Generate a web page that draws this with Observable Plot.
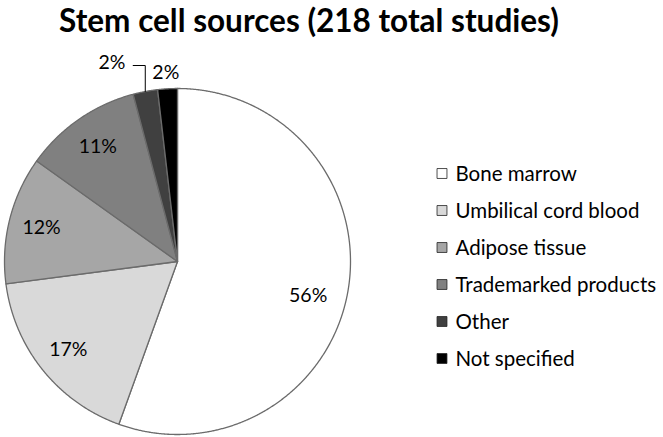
<!DOCTYPE html>
<html><head><meta charset="utf-8">
<script src="https://cdn.jsdelivr.net/npm/d3@7"></script>
<script src="https://cdn.jsdelivr.net/npm/@observablehq/plot@0.6"></script>
<style>body{margin:0;background:#fff;font-family:Lato,sans-serif;}</style>
</head><body><div id="chart"></div>
<script>
const title = "Stem cell sources (218 total studies)";
const categories = ["Bone marrow", "Umbilical cord blood", "Adipose tissue", "Trademarked products", "Other", "Not specified"];
const studies = [121, 38, 26, 24, 5, 4];
const colors = ["#ffffff", "#d9d9d9", "#a6a6a6", "#808080", "#404040", "#000000"];

// layout (pixels)
const W = 663, H = 437, CX = 177, CY = 261, R = 173;
const ux = px => (px - CX) / R;
const uy = py => (CY - py) / R;

const total = d3.sum(studies);
const data = categories.map((c, i) => ({category: c, value: studies[i], share: studies[i] / total, pct: Math.round(studies[i] / total * 100) + "%"}));
const arcs = d3.pie().sort(null).value(d => d.value)(data);
const pt = (a, r) => [r * Math.sin(a), r * Math.cos(a)];

const polys = arcs.flatMap(a => {
  const n = Math.max(2, Math.ceil((a.endAngle - a.startAngle) / 0.005));
  const pts = [{category: a.data.category, x: 0, y: 0}];
  for (let k = 0; k <= n; k++) {
    const t = a.startAngle + (a.endAngle - a.startAngle) * k / n;
    const [x, y] = pt(t, 1);
    pts.push({category: a.data.category, x, y});
  }
  return pts;
});

const mid = a => (a.startAngle + a.endAngle) / 2;
const inside = arcs.filter(a => a.data.share >= 0.05).map((a, i) => {
  const ang = mid(a) + (i === 0 ? 0.08 : 0);
  const [x, y] = pt(ang, i === 0 ? 0.78 : 0.81);
  return {x, y, label: a.data.pct};
});
const small = arcs.filter(a => a.data.share < 0.05);
const outLabels = [];
const leader = [];
small.forEach((a, j) => {
  const [ex, ey] = pt(mid(a), 1);
  if (j === small.length - 1) {
    outLabels.push({x: ex - 0.01, y: uy(72), label: a.data.pct, anchor: "middle"});
  } else {
    leader.push({x: ex, y: ey}, {x: ex, y: uy(65)}, {x: ex - 0.07, y: uy(65)});
    outLabels.push({x: ex - 0.115, y: uy(62), label: a.data.pct, anchor: "end"});
  }
});

const legend = categories.map((c, i) => ({category: c, x: ux(441.5), tx: ux(455), y: uy(173 + i * 37)}));

const chart = Plot.plot({
  width: W, height: H,
  margin: 0,
  x: {domain: [-1, 1], range: [CX - R, CX + R], axis: null},
  y: {domain: [-1, 1], range: [CY + R, CY - R], axis: null},
  color: {domain: categories, range: colors},
  style: {fontFamily: "Lato, sans-serif", color: "#000", background: "#fff"},
  marks: [
    Plot.line(polys, {x: "x", y: "y", z: "category", fill: "category", stroke: "#6b6b6b", strokeWidth: 1.3, curve: "linear-closed", strokeLinejoin: "round"}),
    Plot.text(inside, {x: "x", y: "y", text: "label", fontSize: 19.5, fill: "#000"}),
    Plot.line(leader, {x: "x", y: "y", stroke: "#000", strokeWidth: 1}),
    Plot.text(outLabels.filter(d => d.anchor === "middle"), {x: "x", y: "y", text: "label", fontSize: 19.5, textAnchor: "middle"}),
    Plot.text(outLabels.filter(d => d.anchor === "end"), {x: "x", y: "y", text: "label", fontSize: 19.5, textAnchor: "end"}),
    Plot.dot(legend, {x: "x", y: "y", symbol: "square", r: 5.6, fill: "category", stroke: "#222", strokeWidth: 0.8}),
    Plot.text(legend, {x: "tx", y: "y", text: "category", textAnchor: "start", fontSize: 20.5, dy: 1}),
    Plot.text([title], {frameAnchor: "top", dx: -23, dy: 9, lineAnchor: "top", text: d => d, fontSize: 31.5, fontWeight: "bold"})
  ]
});
document.getElementById("chart").append(chart);
</script>
</body></html>
